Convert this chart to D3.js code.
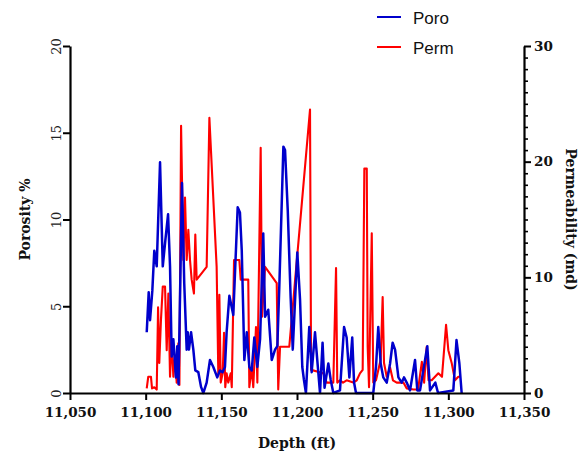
<!DOCTYPE html>
<html>
<head>
<meta charset="utf-8">
<script src="https://cdn.jsdelivr.net/npm/d3@7/dist/d3.min.js"></script>
<style>
  html, body { margin: 0; padding: 0; background: #fff; }
  svg { display: block; }
</style>
</head>
<body>
<svg id="chart" width="580" height="456"></svg>
<script>
// Porosity log (left axis, %)
const poroDepth = [
  11100.7, 11102.0, 11102.9, 11104.4, 11105.7, 11107.3, 11109.5, 11111.3, 11113.0, 11114.8,
  11116.1, 11117.2, 11118.3, 11120.0, 11120.9, 11121.7, 11124.0, 11125.5, 11127.1, 11127.8,
  11128.6, 11130.0, 11131.5, 11132.8, 11134.8, 11136.6, 11138.1, 11140.3, 11142.5, 11144.7,
  11147.3, 11149.1, 11150.8, 11152.4, 11153.5, 11155.3, 11157.9, 11160.8, 11162.3, 11163.5,
  11164.5, 11165.2, 11166.8, 11168.5, 11170.1, 11171.8, 11173.8, 11175.6, 11177.7, 11178.9,
  11181.0, 11183.3, 11185.5, 11187.0, 11188.3, 11191.0, 11192.1, 11193.9, 11195.8, 11197.2,
  11200.2, 11202.0, 11203.5, 11204.6, 11205.9, 11208.1, 11209.7, 11211.9, 11213.4, 11215.2,
  11216.9, 11218.2, 11220.7, 11222.3, 11224.0, 11228.4, 11231.1, 11232.8, 11234.6, 11236.5,
  11237.7, 11239.0, 11250.4, 11252.2, 11253.7, 11255.3, 11257.0, 11259.3, 11261.5, 11263.2,
  11264.8, 11267.0, 11269.2, 11270.7, 11272.5, 11274.7, 11278.0, 11279.5, 11281.3, 11286.1,
  11287.9, 11291.4, 11293.2, 11303.3, 11305.4, 11307.3, 11308.8
];
const poro = [
  3.5, 5.8, 4.2, 5.9, 8.2, 7.3, 13.3, 7.3, 8.8, 10.3,
  7.3, 2.1, 3.1, 0.9, 2.7, 0.5, 12.1, 6.3, 2.5, 3.5,
  2.5, 3.5, 2.5, 1.3, 1.2, 0.35, 0, 0.6, 1.9, 1.5,
  0.9, 1.3, 1.2, 1.5, 3.5, 5.6, 4.5, 10.7, 10.4, 8.2,
  4.6, 1.9, 3.5, 1.5, 1.3, 3.2, 1.5, 3.1, 9.2, 4.4,
  4.8, 1.9, 2.5, 2.7, 6.1, 14.2, 14.0, 10.5, 5.5, 2.5,
  8.1, 5.4, 1.5, 0.75, 0, 3.8, 1.2, 3.5, 1.9, 0,
  2.9, 0.3, 1.7, 0.75, 0, 0.15, 3.8, 3.2, 0.9, 3.2,
  0.6, 0, 0, 1.5, 3.8, 1.7, 0.9, 0.6, 1.7, 2.9,
  2.5, 0.9, 0.6, 0.9, 0.6, 0.15, 1.9, 0.15, 0.15, 2.7,
  0.15, 0.6, 0, 0.15, 3.05, 1.7, 0
];

// Permeability log (right axis, md)
const permDepth = [
  11100.7, 11101.7, 11103.5, 11104.2, 11105.7, 11107.3, 11108.2, 11109.0, 11110.1, 11111.3,
  11112.8, 11113.9, 11115.0, 11116.1, 11117.2, 11118.3, 11119.4, 11120.5, 11121.6, 11122.3,
  11123.4, 11124.9, 11126.0, 11127.1, 11128.2, 11129.3, 11130.4, 11131.9, 11132.8, 11133.7,
  11140.3, 11142.1, 11146.9, 11148.0, 11148.7, 11149.6, 11150.9, 11151.8, 11152.6, 11153.5,
  11154.6, 11156.2, 11156.9, 11158.4, 11161.9, 11162.8, 11167.8, 11168.5, 11170.1, 11171.1,
  11172.9, 11173.8, 11176.0, 11176.9, 11178.9, 11186.6, 11187.6, 11188.8, 11194.9, 11208.6,
  11209.3, 11215.2, 11217.4, 11219.6, 11224.0, 11225.8, 11226.6, 11228.4, 11230.4, 11232.8,
  11237.2, 11239.5, 11241.6, 11243.4, 11244.5, 11246.1, 11246.7, 11247.6, 11249.4, 11250.4,
  11252.2, 11255.3, 11256.6, 11257.5, 11259.3, 11261.5, 11263.4, 11265.9, 11270.3, 11272.5,
  11276.9, 11280.0, 11282.5, 11284.0, 11285.7, 11286.9, 11289.0, 11291.2, 11293.4, 11295.8,
  11298.5, 11300.0, 11302.2, 11304.4, 11306.6, 11307.7
];
const perm = [
  0.4, 1.4, 1.4, 0.4, 0.5, 0.3, 7.4, 2.6, 6.3, 9.2,
  9.2, 3.7, 8.6, 1.4, 4.6, 1.4, 3.1, 0.9, 4.3, 0.7,
  23.1, 11.5, 16.9, 11.5, 14.1, 11.5, 9.8, 8.6, 13.7, 9.8,
  10.9, 23.8, 10.9, 1.7, 8.5, 0.9, 1.7, 5.2, 0.5, 1.7,
  0.9, 1.7, 0.5, 11.5, 11.5, 9.8, 9.8, 0.5, 2.2, 0.5,
  5.7, 0.9, 21.2, 6.6, 10.9, 9.5, 0.3, 4.0, 4.0, 24.5,
  2.0, 1.8, 1.7, 0.9, 0.9, 10.8, 0.9, 1.1, 0.9, 1.1,
  0.9, 1.1, 1.7, 2.0, 19.4, 19.4, 4.0, 0.5, 13.8, 0.9,
  1.1, 2.9, 8.3, 2.6, 1.4, 2.2, 1.1, 0.9, 0.9, 0.4,
  0.3, 0.3, 2.7, 0.9, 4.0, 1.1, 1.1, 1.4, 1.7, 1.4,
  5.9, 3.7, 2.6, 1.1, 1.4, 1.4
];

const depthTicks = [11050, 11100, 11150, 11200, 11250, 11300, 11350];
const poroTicks = [0, 5, 10, 15, 20];
const permTicks = [0, 10, 20, 30];

const seriesNames = ["Poro", "Perm"];
const seriesColors = ["#0000cc", "#ff0000"];

const svg = d3.select("#chart");
const plot = { left: 70, right: 524, top: 46, bottom: 393 };

const x = d3.scaleLinear().domain([11050, 11350]).range([plot.left, plot.right]);
const yPoro = d3.scaleLinear().domain([0, 20]).range([plot.bottom, plot.top]);
const yPerm = d3.scaleLinear().domain([0, 30]).range([plot.bottom, plot.top]);

const serif = "'DejaVu Serif', 'Liberation Serif', serif";

function styleAxis(g) {
  g.select(".domain").attr("stroke", "#000").attr("stroke-width", 2.2);
  g.selectAll(".tick line").attr("stroke", "#000").attr("stroke-width", 2);
}

// Permeability line (drawn first, porosity on top)
const permLine = d3.line().x((d, i) => x(permDepth[i])).y(d => yPerm(d));
svg.append("path")
  .datum(perm)
  .attr("fill", "none")
  .attr("stroke", seriesColors[1])
  .attr("stroke-width", 2.1)
  .attr("stroke-linejoin", "round")
  .attr("d", permLine);

const poroLine = d3.line().x((d, i) => x(poroDepth[i])).y(d => yPoro(d));
svg.append("path")
  .datum(poro)
  .attr("fill", "none")
  .attr("stroke", seriesColors[0])
  .attr("stroke-width", 2.5)
  .attr("stroke-linejoin", "round")
  .attr("d", poroLine);

// Bottom axis
const gx = svg.append("g")
  .attr("transform", `translate(0,${plot.bottom})`)
  .call(d3.axisBottom(x).tickValues(depthTicks).tickFormat(d3.format(",")).tickSize(7).tickSizeOuter(0));
styleAxis(gx);
gx.selectAll(".tick text")
  .attr("y", 14)
  .attr("dy", "0.71em")
  .style("font-family", serif)
  .style("font-weight", "bold")
  .style("font-size", "13.5px")
  .attr("fill", "#111");

// Left axis (porosity)
const gl = svg.append("g")
  .attr("transform", `translate(${plot.left},0)`)
  .call(d3.axisLeft(yPoro).tickValues(poroTicks).tickSize(7).tickSizeOuter(0));
styleAxis(gl);
gl.selectAll(".tick text")
  .attr("x", 0).attr("y", 0).attr("dy", 0)
  .attr("text-anchor", "middle")
  .attr("transform", "translate(-9,0) rotate(-90)")
  .style("font-family", serif)
  .style("font-size", "13px")
  .attr("fill", "#222");

// Right axis (permeability) with minor ticks every 1 md
const gr = svg.append("g")
  .attr("transform", `translate(${plot.right},0)`)
  .call(d3.axisRight(yPerm).tickValues(permTicks).tickSize(7).tickSizeOuter(0));
styleAxis(gr);
gr.selectAll(".tick text")
  .attr("x", 10)
  .style("font-family", serif)
  .style("font-weight", "bold")
  .style("font-size", "13.5px")
  .attr("fill", "#111");

const grMinor = svg.append("g")
  .attr("transform", `translate(${plot.right},0)`)
  .call(d3.axisRight(yPerm).tickValues(d3.range(0, 31, 1).filter(v => v % 10 !== 0)).tickSize(4).tickFormat(""));
grMinor.select(".domain").remove();
grMinor.selectAll(".tick line").attr("stroke", "#000").attr("stroke-width", 1.6);

// Axis titles
svg.append("text")
  .attr("transform", `translate(${(plot.left + plot.right) / 2},448)`)
  .attr("text-anchor", "middle")
  .style("font-family", serif).style("font-weight", "bold").style("font-size", "14px")
  .attr("fill", "#111")
  .text("Depth (ft)");

svg.append("text")
  .attr("transform", `translate(30,${(plot.top + plot.bottom) / 2}) rotate(-90)`)
  .attr("text-anchor", "middle")
  .style("font-family", serif).style("font-weight", "bold").style("font-size", "14px")
  .attr("fill", "#111")
  .text("Porosity %");

svg.append("text")
  .attr("transform", `translate(566,${(plot.top + plot.bottom) / 2}) rotate(90)`)
  .attr("text-anchor", "middle")
  .style("font-family", serif).style("font-weight", "bold").style("font-size", "14px")
  .attr("fill", "#111")
  .text("Permeability (md)");

// Legend
const legend = svg.append("g").attr("transform", "translate(377,17)");
seriesNames.forEach((name, i) => {
  const row = legend.append("g").attr("transform", `translate(0,${i * 30})`);
  row.append("line")
    .attr("x1", 0).attr("x2", 24).attr("y1", 0).attr("y2", 0)
    .attr("stroke", seriesColors[i]).attr("stroke-width", 2);
  row.append("text")
    .attr("x", 36).attr("y", 6.5)
    .style("font-family", "'Liberation Sans', Arial, sans-serif")
    .style("font-size", "17px")
    .attr("fill", "#111")
    .text(name);
});
</script>
</body>
</html>
